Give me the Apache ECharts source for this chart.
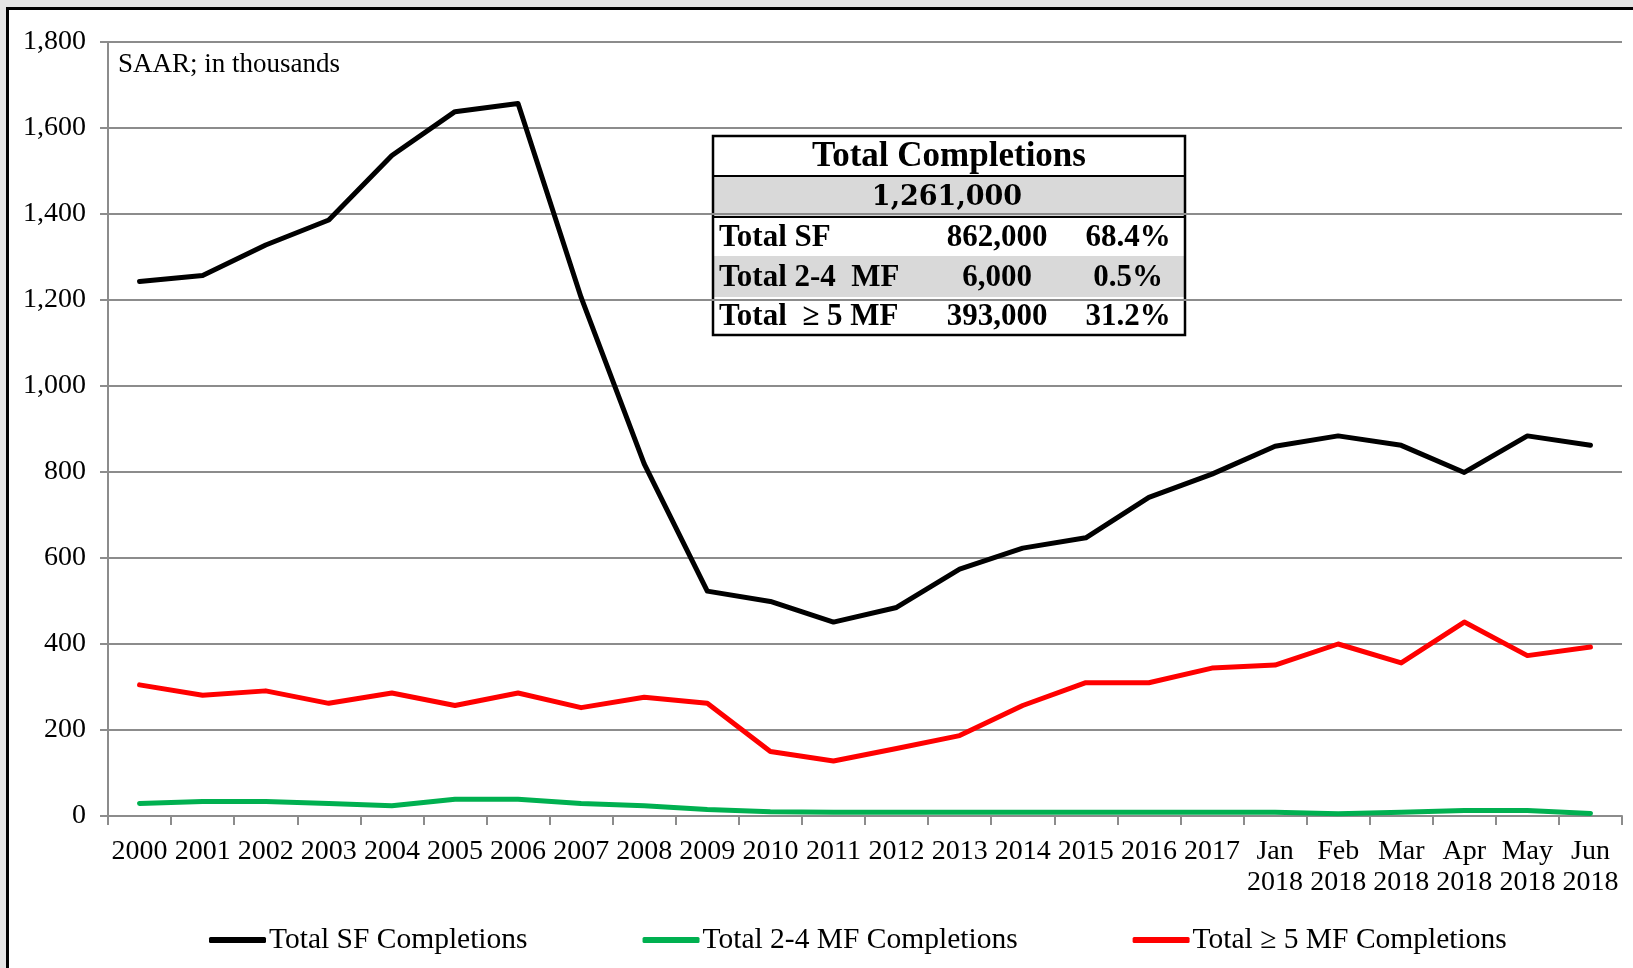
<!DOCTYPE html>
<html lang="en">
<head>
    <meta charset="UTF-8">
    <title>Completions</title>
    <script src="https://cdn.jsdelivr.net/npm/echarts@6/dist/echarts.min.js"></script>
</head>
<style>
    html, body {
        margin: 0;
        padding: 0;
        width: 1633px;
        height: 968px;
        background: #e4e4e4;
        overflow: hidden;
    }
    #frame {
        position: absolute;
        left: 6px;
        top: 7px;
        width: 1700px;
        height: 1000px;
        background: #fff;
        border: 3px solid #000;
    }
    #main {
        position: absolute;
        left: 0;
        top: 0;
        width: 1633px;
        height: 968px;
    }
</style>
<body>
<div id="frame"></div>
<div id="main"></div>
<script type="text/javascript">
    // categories (x axis)
    var categories = ['2000', '2001', '2002', '2003', '2004', '2005', '2006', '2007', '2008', '2009',
        '2010', '2011', '2012', '2013', '2014', '2015', '2016', '2017',
        'Jan\n2018', 'Feb\n2018', 'Mar\n2018', 'Apr\n2018', 'May\n2018', 'Jun\n2018'];

    // series values, thousands
    var sfValues = [1243, 1257, 1328, 1386, 1536, 1638, 1657, 1206, 819, 523,
        499, 451, 485, 574, 623, 647, 741, 795,
        860, 884, 862, 799, 884, 862];
    var mf24Values = [29, 34, 34, 29, 24, 39, 39, 29, 24, 15,
        10, 9, 9, 9, 9, 9, 9, 9,
        9, 5, 9, 13, 13, 6];
    var mf5Values = [305, 281, 291, 262, 286, 257, 286, 252, 276, 262,
        150, 128, 157, 187, 257, 310, 310, 344,
        351, 400, 356, 451, 373, 393];

    var seriesNames = ['Total SF Completions', 'Total 2-4 MF Completions', 'Total \u2265 5 MF Completions'];

    // table in the chart
    var tableTitle = 'Total Completions';
    var tableTotal = '1,261,000';
    var tableRows = [
        ['Total SF', '862,000', '68.4%'],
        ['Total 2-4  MF', '6,000', '0.5%'],
        ['Total  \u2265 5 MF', '393,000', '31.2%']
    ];

    var serif = '"Liberation Serif", "Times New Roman", serif';

    // build table graphic
    var tx = 713, tw = 472;
    var rowY = [136, 176, 217, 256, 297, 335];
    var table = [];
    // row backgrounds
    for (var i = 0; i < 5; i++) {
        var gray = (i == 1 || i == 3);
        table.push({
            type: 'rect',
            shape: {x: tx, y: rowY[i], width: tw, height: rowY[i + 1] - rowY[i]},
            style: {fill: gray ? '#d9d9d9' : '#fff'}
        });
    }
    table.push({
        type: 'text',
        x: tx + tw / 2, y: (rowY[0] + rowY[1]) / 2 + 1,
        style: {text: tableTitle, font: 'bold 35px ' + serif, fill: '#000', align: 'center', verticalAlign: 'middle'}
    });
    table.push({
        type: 'text',
        x: tx + tw / 2 - 2, y: (rowY[1] + rowY[2]) / 2 + 1,
        style: {text: tableTotal, font: 'bold 27px "DejaVu Serif", serif', fill: '#000', align: 'center', verticalAlign: 'middle'}
    });
    for (var r = 0; r < tableRows.length; r++) {
        var cy = (rowY[r + 2] + rowY[r + 3]) / 2 + 1;
        table.push({
            type: 'text', x: tx + 6, y: cy,
            style: {text: tableRows[r][0], font: 'bold 31px ' + serif, fill: '#000', align: 'left', verticalAlign: 'middle'}
        });
        table.push({
            type: 'text', x: 997, y: cy,
            style: {text: tableRows[r][1], font: 'bold 31px ' + serif, fill: '#000', align: 'center', verticalAlign: 'middle'}
        });
        table.push({
            type: 'text', x: 1128, y: cy,
            style: {text: tableRows[r][2], font: 'bold 31px ' + serif, fill: '#000', align: 'center', verticalAlign: 'middle'}
        });
    }
    // lines
    table.push({
        type: 'rect',
        shape: {x: tx, y: rowY[0], width: tw, height: rowY[5] - rowY[0]},
        style: {fill: 'none', stroke: '#000', lineWidth: 2.5}
    });
    [rowY[1], rowY[2]].forEach(function (yy) {
        table.push({
            type: 'line',
            shape: {x1: tx, y1: yy, x2: tx + tw, y2: yy},
            style: {stroke: '#000', lineWidth: 2}
        });
    });

    var myChart = echarts.init(document.getElementById('main'), null, {renderer: 'canvas'});

    var colors = ['#000000', '#00b050', '#ff0000'];
    var allValues = [sfValues, mf24Values, mf5Values];

    var option = {
        backgroundColor: 'transparent',
        animation: false,
        textStyle: {fontFamily: serif},
        grid: {left: 108, right: 11, top: 42, bottom: 152},
        legend: {
            left: 204,
            top: 920,
            itemWidth: 57,
            itemHeight: 6,
            itemGap: 115,
            icon: 'roundRect',
            textStyle: {fontFamily: serif, fontSize: 29.5, color: '#000', padding: [0, 0, 0, -2]},
            data: seriesNames
        },
        graphic: [{
            type: 'text',
            left: 118,
            top: 51,
            style: {text: 'SAAR; in thousands', font: '27px ' + serif, fill: '#000'}
        }, {
            type: 'group',
            z: 100,
            children: table
        }],
        xAxis: {
            type: 'category',
            data: categories,
            boundaryGap: true,
            axisLine: {lineStyle: {color: '#8c8c8c', width: 2}},
            axisTick: {show: true, length: 9, lineStyle: {color: '#8c8c8c', width: 2}},
            axisLabel: {
                interval: 0,
                margin: 20,
                color: '#000',
                fontFamily: serif,
                fontSize: 28,
                lineHeight: 31
            }
        },
        yAxis: {
            type: 'value',
            min: 0,
            max: 1800,
            interval: 200,
            axisLine: {show: true, lineStyle: {color: '#8c8c8c', width: 2}},
            axisTick: {show: true, length: 8, lineStyle: {color: '#8c8c8c', width: 2}},
            splitLine: {lineStyle: {color: '#8c8c8c', width: 2}},
            axisLabel: {
                margin: 22,
                color: '#000',
                fontFamily: serif,
                fontSize: 28,
                formatter: function (v) {
                    return v.toLocaleString('en-US');
                }
            }
        },
        series: seriesNames.map(function (name, k) {
            return {
                name: name,
                type: 'line',
                data: allValues[k],
                symbol: 'none',
                itemStyle: {color: colors[k]},
                lineStyle: {color: colors[k], width: 5, cap: 'round', join: 'round'},
                z: 3 - k
            };
        })
    };

    myChart.setOption(option);
</script>
</body>
</html>
